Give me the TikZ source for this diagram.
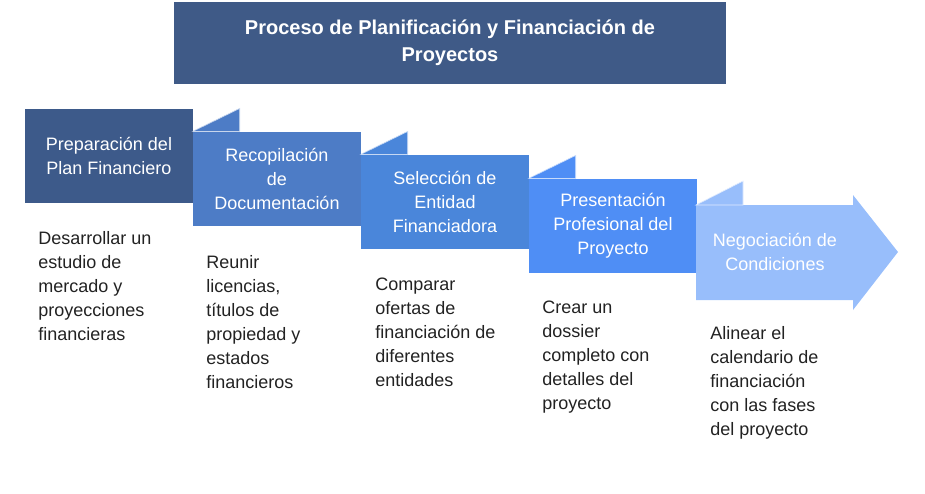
\documentclass[tikz,border=0pt]{standalone}
\usepackage{fontspec}
\setmainfont{Liberation Sans}
\usetikzlibrary{positioning}
\definecolor{titlebg}{HTML}{3F5A87}
\definecolor{stepA}{HTML}{3D5A8A}
\definecolor{stepB}{HTML}{4D7CC6}
\definecolor{stepC}{HTML}{4A86DA}
\definecolor{stepD}{HTML}{4F8EF5}
\definecolor{stepE}{HTML}{98BEFB}
\definecolor{desc}{HTML}{222222}

\begin{document}
\begin{tikzpicture}[
  x=0.75pt, y=-0.75pt,
  stepbox/.style = {minimum width=126pt, minimum height=71pt, inner sep=0pt,
    text=white, align=center, font=\fontsize{13.5}{18}\selectfont},
  fold/.style = {draw=white!70!#1, line width=0.5pt, fill=#1},
  note/.style = {anchor=north west, align=left, inner sep=0pt, text=desc,
    font=\fontsize{13.5}{18}\selectfont},
]
  \useasboundingbox (0,0) rectangle (925,493);

  % title
  \node[fill=titlebg, minimum width=414pt, minimum height=62pt, text=white,
    align=center, font=\bfseries\fontsize{15}{20}\selectfont]
    (title) at (450,43) {Proceso de Planificación y Financiación de\\Proyectos};

  % steps
  \node[stepbox, fill=stepA] (s1) at (109,156) {Preparación del\\Plan Financiero};
  \node[stepbox, fill=stepB] (s2) at (277,179) {Recopilación\\de\\Documentación};
  \node[stepbox, fill=stepC] (s3) at (445,202) {Selección de\\Entidad\\Financiadora};
  \node[stepbox, fill=stepD] (s4) at (613,226) {Presentación\\Profesional del\\Proyecto};

  % last step as arrow
  \fill[stepE] (696,205) -- (853,205) -- (853,195) -- (898,252) -- (853,310)
    -- (853,300) -- (696,300) -- cycle;
  \node[text=white, align=center, font=\fontsize{13.5}{18}\selectfont]
    (s5) at (775,252) {Negociación de\\Condiciones};

  % folds
  \draw[fold=stepB] (s2.north west) -- +(47,-23) |- cycle;
  \draw[fold=stepC] (s3.north west) -- +(47,-23) |- cycle;
  \draw[fold=stepD] (s4.north west) -- +(47,-23) |- cycle;
  \draw[fold=stepE] (696,205) -- +(47,-24) |- cycle;

  % descriptions
  \node[note] (d1) at (38,231) {Desarrollar un\\estudio de\\mercado y\\proyecciones\\financieras};
  \node[note] (d2) at (206,255) {Reunir\\licencias,\\títulos de\\propiedad y\\estados\\financieros};
  \node[note] (d3) at (375,278) {Comparar\\ofertas de\\financiación de\\diferentes\\entidades};
  \node[note] (d4) at (542,301) {Crear un\\dossier\\completo con\\detalles del\\proyecto};
  \node[note] (d5) at (710,326) {Alinear el\\calendario de\\financiación\\con las fases\\del proyecto};
\end{tikzpicture}
\end{document}
